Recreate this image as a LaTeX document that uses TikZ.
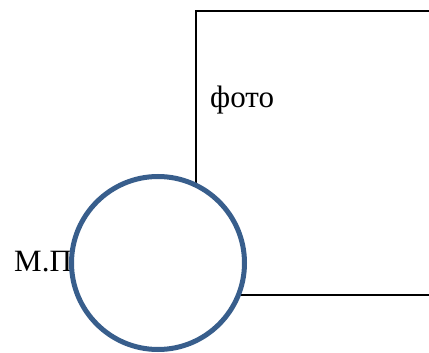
\documentclass[tikz,border=0pt]{standalone}
\usepackage{fontspec}
\setmainfont{Liberation Serif}
\begin{document}
\begin{tikzpicture}[x=1pt, y=-1pt]
            % Define colors
            \definecolor{stampblue}{RGB}{56, 94, 140}

            % Fix picture size
            \clip (0, 0) rectangle (429, 353);
            \useasboundingbox (0, 0) rectangle (429, 353);

            % Draw photo frame
            \draw[line width=2.5pt] (440, 295) -- (196, 295) -- (196, 11) -- (440, 11);

            % Add text
            \node[anchor=base west, inner sep=0pt, font=\fontsize{31}{36}\selectfont] (photo) at (210, 108) {фото};
            \node[anchor=base west, inner sep=0pt, font=\fontsize{31}{36}\selectfont] (mp) at (14, 271) {М.П};

            % Draw stamp circle
            \draw[stampblue, fill=white, line width=5pt] (158, 263) circle (86.5);
        \end{tikzpicture}
\end{document}
